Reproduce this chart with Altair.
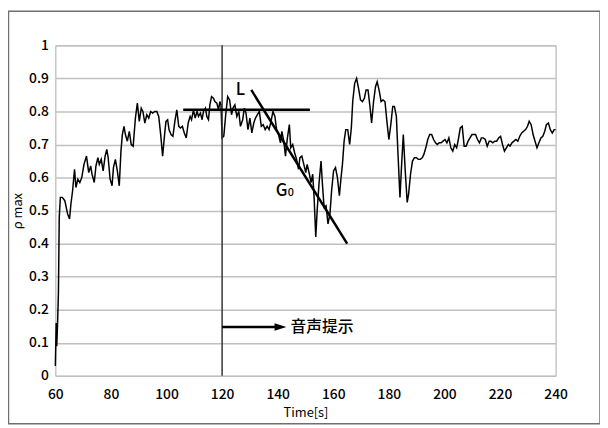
import altair as alt
import pandas as pd

# ---- main series ----
t = [60.0, 60.3, 60.5, 60.8, 61.1, 61.4, 61.8, 62.5, 63.4, 64.4, 65.1, 65.6, 66.2, 66.9, 67.4,
     68.1, 68.8, 69.5, 70.3, 71.2, 72.0, 72.7, 73.2, 74.0, 74.6, 75.3, 75.8, 76.5, 77.2, 77.9,
     78.5, 79.0, 79.7, 80.4, 80.9, 81.6, 82.3, 83.0, 83.6, 84.1, 84.7, 85.2, 85.9, 86.6, 87.3,
     88.0, 88.8, 89.5, 90.2, 90.9, 91.5, 92.2, 92.9, 93.6, 94.3, 95.0, 95.8, 96.5, 97.2, 97.9,
     98.6, 99.3, 99.8, 100.4, 100.9, 101.6, 102.3, 103.0, 103.7, 104.4, 105.0, 105.7, 106.4,
     107.1, 107.8, 108.5, 109.0, 109.7, 110.3, 111.0, 111.5, 112.2, 112.8, 113.3, 114.0, 114.5,
     115.1, 115.6, 116.2, 116.9, 117.4, 118.1, 118.7, 119.2, 119.6, 120.0, 120.6, 121.3, 122.0,
     122.7, 123.4, 123.9, 124.6, 125.3, 126.0, 126.6, 127.4, 128.0, 128.6, 129.3, 130.0, 130.7,
     131.4, 132.0, 132.7, 133.4, 134.1, 134.8, 135.5, 136.2, 136.9, 137.6, 138.3, 139.0, 139.6,
     140.3, 141.0, 141.5, 142.2, 142.8, 143.5, 144.2, 144.7, 145.4, 146.1, 146.8, 147.5, 148.0,
     148.7, 149.4, 150.1, 150.6, 151.3, 152.0, 152.6, 153.1, 153.7, 154.2, 154.9, 155.6, 156.1,
     156.7, 157.4, 158.1, 158.8, 159.4, 160.1, 160.8, 161.5, 162.2, 162.8, 163.3, 163.9, 164.5,
     165.2, 165.9, 166.5, 167.0, 167.7, 168.4, 169.1, 169.8, 170.5, 171.2, 171.8, 172.5, 173.2,
     173.8, 174.5, 175.2, 175.8, 176.6, 177.2, 177.9, 178.6, 179.3, 180.0, 180.7, 181.4, 182.0,
     182.7, 183.3, 184.0, 184.6, 185.2, 185.9, 186.6, 187.1, 187.8, 188.5, 189.2, 189.9, 190.6,
     191.3, 192.0, 192.6, 193.3, 194.0, 194.7, 195.4, 196.1, 196.8, 197.4, 198.1, 198.8, 199.5,
     200.2, 200.9, 201.6, 202.3, 203.0, 203.7, 204.4, 205.0, 205.7, 206.4, 207.1, 207.8, 208.5,
     209.2, 209.9, 210.6, 211.2, 211.9, 212.6, 213.3, 214.0, 214.7, 215.4, 216.1, 216.7, 217.4,
     218.1, 218.8, 219.5, 220.2, 220.9, 221.6, 222.3, 223.0, 223.6, 224.3, 225.0, 225.7, 226.4,
     227.1, 227.8, 228.5, 229.2, 229.9, 230.5, 231.2, 231.9, 232.6, 233.3, 234.0, 234.7, 235.4,
     236.1, 236.7, 237.4, 238.1, 238.8, 239.5, 240.0]
v = [0.03, 0.16, 0.09, 0.16, 0.25, 0.48, 0.54, 0.54, 0.53, 0.49, 0.475, 0.52, 0.56, 0.625, 0.57,
     0.595, 0.585, 0.60, 0.64, 0.665, 0.615, 0.635, 0.61, 0.585, 0.635, 0.66, 0.64, 0.655, 0.62, 0.665,
     0.685, 0.66, 0.595, 0.575, 0.63, 0.655, 0.62, 0.575, 0.68, 0.73, 0.755, 0.73, 0.71, 0.74, 0.70,
     0.695, 0.78, 0.825, 0.77, 0.81, 0.80, 0.765, 0.79, 0.78, 0.80, 0.795, 0.80, 0.80, 0.785, 0.73,
     0.665, 0.73, 0.77, 0.775, 0.745, 0.73, 0.725, 0.77, 0.805, 0.755, 0.75, 0.755, 0.735,
     0.72, 0.765, 0.785, 0.775, 0.805, 0.78, 0.80, 0.785, 0.795, 0.775, 0.80, 0.81, 0.785,
     0.775, 0.82, 0.845, 0.84, 0.83, 0.825, 0.805, 0.83, 0.82, 0.72, 0.725, 0.79, 0.845,
     0.835, 0.79, 0.81, 0.82, 0.785, 0.80, 0.755, 0.775, 0.81, 0.795, 0.745, 0.78, 0.735,
     0.765, 0.78, 0.79, 0.80, 0.755, 0.76, 0.745, 0.755, 0.745, 0.77, 0.80, 0.785, 0.745,
     0.73, 0.705, 0.74, 0.71, 0.665, 0.72, 0.76, 0.69, 0.70, 0.675, 0.655, 0.625, 0.66,
     0.665, 0.64, 0.615, 0.64, 0.615, 0.585, 0.61, 0.54, 0.42, 0.50, 0.585, 0.65, 0.58,
     0.51, 0.515, 0.46, 0.49, 0.56, 0.62, 0.63, 0.60, 0.545, 0.60, 0.64, 0.71, 0.745,
     0.745, 0.70, 0.75, 0.83, 0.885, 0.90, 0.87, 0.835, 0.83, 0.84, 0.865, 0.865, 0.815,
     0.765, 0.83, 0.875, 0.89, 0.86, 0.83, 0.835, 0.83, 0.77, 0.715, 0.76, 0.815, 0.815,
     0.785, 0.67, 0.54, 0.64, 0.73, 0.62, 0.525, 0.55, 0.61, 0.65, 0.66, 0.66, 0.655,
     0.655, 0.66, 0.67, 0.69, 0.715, 0.73, 0.73, 0.715, 0.705, 0.70, 0.705, 0.705, 0.71,
     0.715, 0.705, 0.72, 0.69, 0.68, 0.70, 0.69, 0.715, 0.75, 0.755, 0.695, 0.695, 0.71,
     0.72, 0.73, 0.73, 0.73, 0.715, 0.705, 0.72, 0.72, 0.715, 0.695, 0.71, 0.71, 0.705,
     0.71, 0.71, 0.72, 0.725, 0.70, 0.68, 0.69, 0.70, 0.695, 0.705, 0.71, 0.715, 0.71,
     0.725, 0.735, 0.74, 0.745, 0.755, 0.77, 0.76, 0.73, 0.71, 0.69, 0.705, 0.72, 0.725,
     0.74, 0.76, 0.765, 0.745, 0.735, 0.745, 0.745]

# ---- annotations ----
x_ticks = [60, 80, 100, 120, 140, 160, 180, 200, 220, 240]
y_ticks = [0, 0.1, 0.2, 0.3, 0.4, 0.5, 0.6, 0.7, 0.8, 0.9, 1]
onset_t = [120]
level_t = [106.0, 151.6]
level_v = [0.805, 0.805]
slope_t = [130.5, 165.0]
slope_v = [0.865, 0.40]
arrow_t = [120, 140.5]
arrow_v = [0.148, 0.148]
head_t = [141.0]
label_L = ("L", 126.6, 0.865)
label_G = ("G", 141.4, 0.558)
label_G_sub = ("0", 143.6, 0.552)
label_cue = ("音声提示", 144.6, 0.148)

W, H = 507, 335
FONT = "Noto Sans CJK JP"

xs = alt.Scale(domain=[60, 240], nice=False, zero=False)
ys = alt.Scale(domain=[0, 1], nice=False)

x_axis = alt.Axis(
    values=x_ticks, title="Time[s]", grid=False, domain=False, ticks=False,
    labelFont=FONT, labelFontSize=14, labelColor="black", labelPadding=12,
    labelFontWeight=500, labelOverlap=False,
    titleFont=FONT, titleFontSize=13, titleFontWeight="normal", titleColor="black",
    titlePadding=5, labelFlush=False)
y_axis = alt.Axis(
    values=y_ticks, format="~g", labelOverlap=False, title="ρ max",
    grid=True, gridColor="#c0c0c0", gridWidth=1.5, tickCount=11,
    domain=False, ticks=False, labelFont=FONT, labelFontSize=14, labelColor="black",
    labelFontWeight=500, labelPadding=7, titleFont=FONT, titleFontSize=13,
    titleFontWeight="normal", titleColor="black", titlePadding=4, labelFlush=False)

def X():
    return alt.X("t:Q", scale=xs, axis=x_axis)

def Y():
    return alt.Y("v:Q", scale=ys, axis=y_axis)

series = pd.DataFrame({"t": t, "v": v})

line = alt.Chart(series).mark_line(color="black", strokeWidth=1.5).encode(x=X(), y=Y())

onset = alt.Chart(pd.DataFrame({"t": onset_t})).mark_rule(color="#333333", strokeWidth=1.5).encode(
    x=X(), y=alt.value(0), y2=alt.value(H))

level = alt.Chart(pd.DataFrame({"t": level_t, "v": level_v})).mark_line(
    color="black", strokeWidth=2.5).encode(x=X(), y=Y())

slope = alt.Chart(pd.DataFrame({"t": slope_t, "v": slope_v})).mark_line(
    color="black", strokeWidth=2.5).encode(x=X(), y=Y())

shaft = alt.Chart(pd.DataFrame({"t": arrow_t, "v": arrow_v})).mark_line(
    color="black", strokeWidth=2.5).encode(x=X(), y=Y())

head = alt.Chart(pd.DataFrame({"t": head_t, "v": [arrow_v[0]]})).mark_point(
    shape="M-1.2,-0.75L1.2,0L-1.2,0.75Z", filled=True, color="black", opacity=1, size=100).encode(
    x=X(), y=Y())

def label(item, size, align="center"):
    txt, tx, ty = item
    return alt.Chart(pd.DataFrame({"t": [tx], "v": [ty], "s": [txt]})).mark_text(
        font=FONT, fontSize=size, color="black", align=align, baseline="middle",
        fontWeight=500).encode(x=X(), y=Y(), text="s:N")

txt_L = label(label_L, 17)
txt_G = label(label_G, 17)
txt_G0 = label(label_G_sub, 11, align="left")
txt_cue = label(label_cue, 16, align="left")

frame = alt.Chart(pd.DataFrame({"a": [0]})).mark_rect(
    fillOpacity=0, stroke="#707070", strokeWidth=1.5).encode(
    x=alt.value(-47.5), x2=alt.value(W + 45), y=alt.value(-34.5), y2=alt.value(H + 48.5))

chart = alt.layer(line, onset, level, slope, shaft, head, txt_L, txt_G, txt_G0, txt_cue, frame).properties(
    width=W, height=H,
    autosize=alt.AutoSizeParams(type="none"),
    padding={"left": 48, "top": 35, "right": 45, "bottom": 50},
    background="white",
).configure_view(stroke="#a8a8a8", strokeWidth=1)

chart.save("out.html", embed_options={"renderer": "svg", "actions": False})
